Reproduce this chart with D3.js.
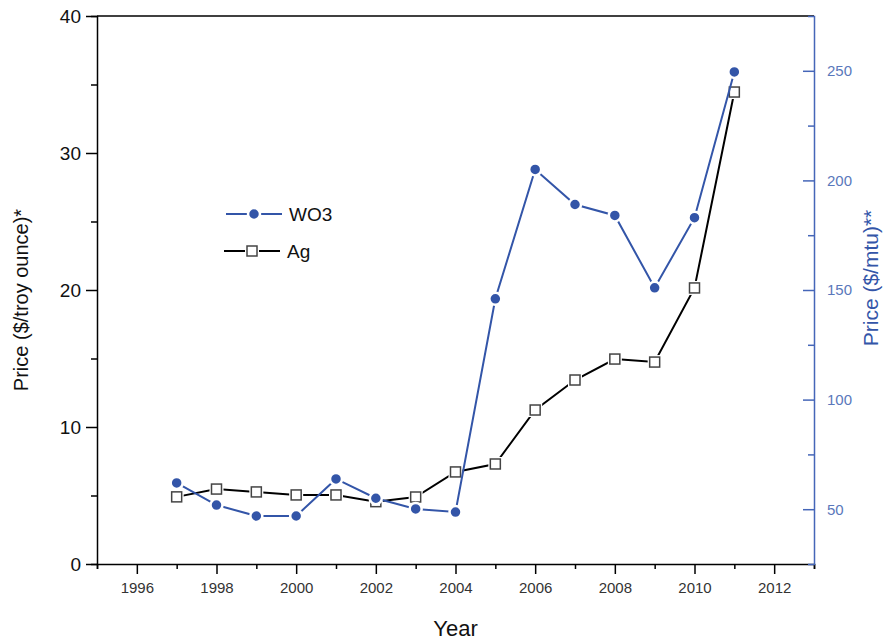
<!DOCTYPE html>
<html>
<head>
<meta charset="utf-8">
<script src="https://cdn.jsdelivr.net/npm/d3@7"></script>
<style>
  body { margin: 0; background: #fff; }
  svg { font-family: "Liberation Sans", Arial, sans-serif; }
</style>
</head>
<body>
<svg width="890" height="640"></svg>
<script>
"use strict";
const years = [1997, 1998, 1999, 2000, 2001, 2002, 2003, 2004, 2005, 2006, 2007, 2008, 2009, 2010, 2011];
const agPrice = [4.9, 5.47, 5.26, 5.04, 5.04, 4.55, 4.89, 6.72, 7.3, 11.24, 13.43, 14.96, 14.74, 20.15, 34.45];
const wo3Price = [62, 51.9, 46.9, 46.9, 63.8, 55, 50.1, 48.7, 146, 205, 189, 184, 151, 183, 249.5];
const xTicks = [1996, 1998, 2000, 2002, 2004, 2006, 2008, 2010, 2012];
const leftTicks = [0, 10, 20, 30, 40];
const rightTicks = [50, 100, 150, 200, 250];

const blue = "#3355a8";
const axisBlue = "#4566b8";
const svg = d3.select("svg");
const plotLeft = 97, plotRight = 814, plotTop = 16, plotBottom = 564;

const x = d3.scaleLinear().domain([1995, 2013]).range([plotLeft, plotRight]);
const yL = d3.scaleLinear().domain([0, 40]).range([plotBottom, plotTop]);
const yR = d3.scaleLinear().domain([25, 275]).range([plotBottom, plotTop]);

// frame top
svg.append("line")
    .attr("x1", plotLeft).attr("x2", plotRight)
    .attr("y1", plotTop).attr("y2", plotTop)
    .attr("stroke", "#000").attr("stroke-width", 1.5);

// bottom axis: minor then major
svg.append("g")
    .attr("transform", `translate(0,${plotBottom})`)
    .call(d3.axisBottom(x).tickValues(d3.range(1995, 2014, 2)).tickSize(5).tickFormat(""))
    .call(g => g.select(".domain").attr("stroke-width", 1.5))
    .call(g => g.selectAll("line").attr("stroke-width", 1.5));
svg.append("g")
    .attr("transform", `translate(0,${plotBottom})`)
    .call(d3.axisBottom(x).tickValues(xTicks).tickSize(10).tickPadding(8).tickFormat(d3.format("d")))
    .call(g => g.select(".domain").remove())
    .call(g => g.selectAll("line").attr("stroke-width", 1.5))
    .call(g => g.selectAll("text").attr("font-size", 15).attr("fill", "#333")
        .attr("font-family", "Liberation Sans, Arial, sans-serif"));

// left axis
svg.append("g")
    .attr("transform", `translate(${plotLeft},0)`)
    .call(d3.axisLeft(yL).tickValues([5, 15, 25, 35]).tickSize(6).tickFormat(""))
    .call(g => g.select(".domain").attr("stroke-width", 1.5))
    .call(g => g.selectAll("line").attr("stroke-width", 1.5));
svg.append("g")
    .attr("transform", `translate(${plotLeft},0)`)
    .call(d3.axisLeft(yL).tickValues(leftTicks).tickSize(11).tickPadding(5))
    .call(g => g.select(".domain").remove())
    .call(g => g.selectAll("line").attr("stroke-width", 1.5))
    .call(g => g.selectAll("text").attr("font-size", 19).attr("fill", "#111")
        .attr("font-family", "Liberation Sans, Arial, sans-serif"));

// right axis (ticks inward, labels outside)
svg.append("g")
    .attr("transform", `translate(${plotRight},0)`)
    .call(d3.axisLeft(yR).tickValues([75, 125, 175, 225]).tickSize(6).tickFormat(""))
    .call(g => g.select(".domain").attr("stroke", axisBlue).attr("stroke-width", 1.5))
    .call(g => g.selectAll("line").attr("stroke", axisBlue).attr("stroke-width", 1.5));
svg.append("g")
    .attr("transform", `translate(${plotRight},0)`)
    .call(d3.axisLeft(yR).tickValues(rightTicks).tickSize(11).tickFormat(""))
    .call(g => g.select(".domain").remove())
    .call(g => g.selectAll("line").attr("stroke", axisBlue).attr("stroke-width", 1.5));
svg.append("g")
    .attr("transform", `translate(${plotRight},0)`)
    .call(d3.axisRight(yR).tickValues(rightTicks).tickSize(0).tickPadding(13))
    .call(g => g.select(".domain").remove())
    .call(g => g.selectAll("text").attr("font-size", 15).attr("fill", "#5a78bb")
        .attr("font-family", "Liberation Sans, Arial, sans-serif"));

// axis titles
svg.append("text")
    .attr("transform", `translate(28,${(plotTop + plotBottom) / 2 + 10}) rotate(-90)`)
    .attr("text-anchor", "middle")
    .attr("font-size", 20).attr("fill", "#111")
    .text("Price ($/troy ounce)*");
svg.append("text")
    .attr("transform", `translate(878,${(plotTop + plotBottom) / 2 - 12}) rotate(-90)`)
    .attr("text-anchor", "middle")
    .attr("font-size", 21).attr("fill", blue)
    .text("Price ($/mtu)**");
svg.append("text")
    .attr("x", (plotLeft + plotRight) / 2).attr("y", 636)
    .attr("text-anchor", "middle")
    .attr("font-size", 22).attr("fill", "#111")
    .text("Year");

// series
const ag = years.map((d, i) => ({ year: d, v: agPrice[i] }));
const wo3 = years.map((d, i) => ({ year: d, v: wo3Price[i] }));

svg.append("path")
    .datum(ag)
    .attr("fill", "none").attr("stroke", "#000").attr("stroke-width", 2)
    .attr("d", d3.line().x(d => x(d.year)).y(d => yL(d.v)));
svg.append("g").selectAll("rect")
    .data(ag).join("rect")
    .attr("x", d => x(d.year) - 7).attr("y", d => yL(d.v) - 7)
    .attr("width", 14).attr("height", 14)
    .attr("fill", "#fff");
svg.append("g").selectAll("rect")
    .data(ag).join("rect")
    .attr("x", d => x(d.year) - 5).attr("y", d => yL(d.v) - 5)
    .attr("width", 10).attr("height", 10)
    .attr("fill", "#fff").attr("stroke", "#444").attr("stroke-width", 1.5);

svg.append("path")
    .datum(wo3)
    .attr("fill", "none").attr("stroke", blue).attr("stroke-width", 2)
    .attr("d", d3.line().x(d => x(d.year)).y(d => yR(d.v)));
svg.append("g").selectAll("circle")
    .data(wo3).join("circle")
    .attr("cx", d => x(d.year)).attr("cy", d => yR(d.v))
    .attr("r", 6)
    .attr("fill", blue).attr("stroke", "#fff").attr("stroke-width", 2.5);

// legend
const legend = svg.append("g");
legend.append("line")
    .attr("x1", 226).attr("x2", 282).attr("y1", 214).attr("y2", 214)
    .attr("stroke", blue).attr("stroke-width", 2);
legend.append("circle")
    .attr("cx", 254).attr("cy", 214).attr("r", 6)
    .attr("fill", blue).attr("stroke", "#fff").attr("stroke-width", 2.5);
legend.append("text")
    .attr("x", 289).attr("y", 221)
    .attr("font-size", 19).attr("fill", "#111")
    .text("WO3");
legend.append("line")
    .attr("x1", 224).attr("x2", 280).attr("y1", 251).attr("y2", 251)
    .attr("stroke", "#000").attr("stroke-width", 2);
legend.append("rect")
    .attr("x", 245).attr("y", 244).attr("width", 14).attr("height", 14)
    .attr("fill", "#fff");
legend.append("rect")
    .attr("x", 247).attr("y", 246).attr("width", 10).attr("height", 10)
    .attr("fill", "#fff").attr("stroke", "#444").attr("stroke-width", 1.5);
legend.append("text")
    .attr("x", 287).attr("y", 258)
    .attr("font-size", 19).attr("fill", "#111")
    .text("Ag");
</script>
</body>
</html>
